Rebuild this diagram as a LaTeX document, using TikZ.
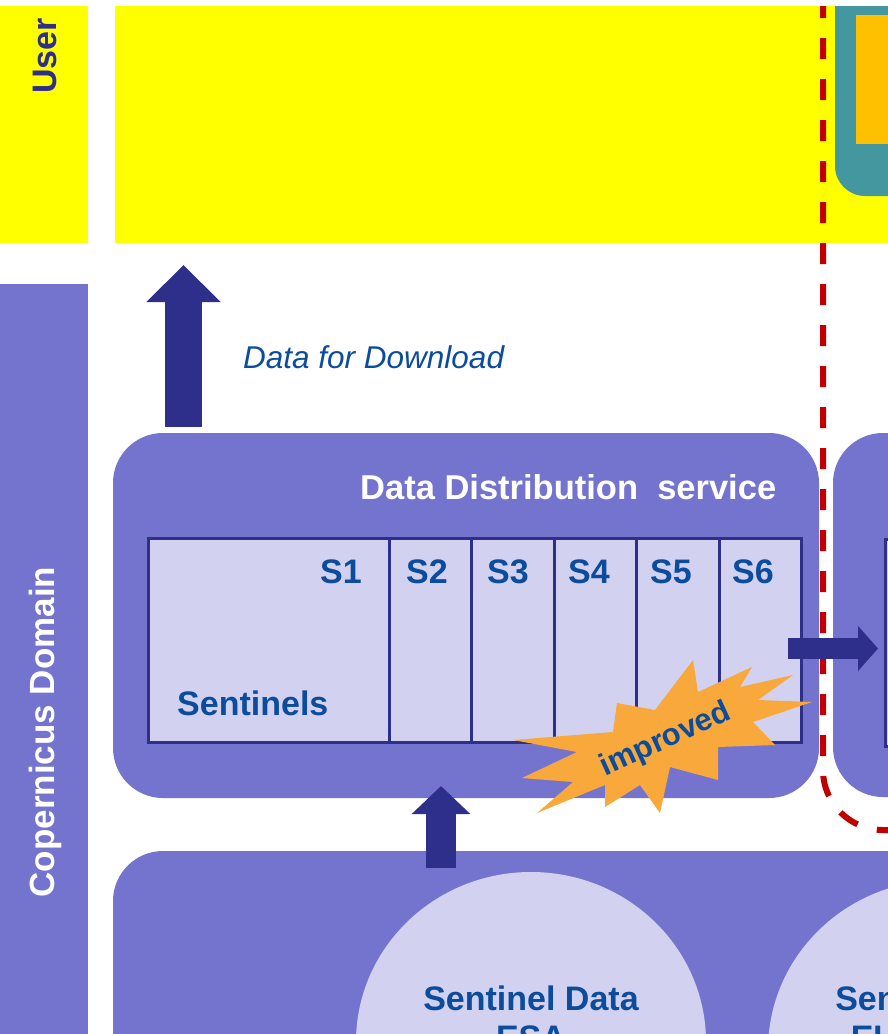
\documentclass[tikz,border=0pt]{standalone}
\usepackage{fontspec}
\setmainfont{Liberation Sans}
\usetikzlibrary{arrows.meta}
\definecolor{uyellow}{HTML}{FFFF00}
\definecolor{uteal}{HTML}{45979F}
\definecolor{uorange}{HTML}{FFC000}
\definecolor{cpurple}{HTML}{7474CF}
\definecolor{clav}{HTML}{D2D2F0}
\definecolor{cnavy}{HTML}{2E2E8B}
\definecolor{cblue}{HTML}{0B4C9C}
\definecolor{cred}{HTML}{C00000}
\definecolor{cstar}{HTML}{F9A83C}
\begin{document}
\begin{tikzpicture}[x=1pt,y=-1pt,
  bf/.style={inner sep=0pt, font=\fontsize{#1}{#1}\selectfont\bfseries},
  itf/.style={inner sep=0pt, font=\fontsize{#1}{#1}\selectfont\itshape},
  lanebox/.style={fill=cpurple, rounded corners=50pt},
  lavfill/.style={fill=clav},
  tableline/.style={draw=cnavy, line width=3pt},
  blockarrow/.style={cnavy, line width=#1},
  reddash/.style={draw=cred, line width=6pt, dash pattern=on 21pt off 20pt, dash phase=9pt, rounded corners=60pt}
]
\useasboundingbox (0,0) rectangle (888,1034);
\clip (0,0) rectangle (888,1034);
\fill[white] (0,0) rectangle (888,1034);
% user lane
\fill[uyellow] (0,6) rectangle (88,243);
\fill[uyellow] (115,6) rectangle (888,243);
\fill[uteal, rounded corners=30pt] (835,-100) rectangle (1000,196);
\fill[uorange] (856,15) rectangle (1000,144);
\fill[white] (0,0) rectangle (888,6);
% copernicus lane
\fill[cpurple] (0,284) rectangle (88,1100);
\node[bf=34, rotate=90, text=cnavy] (user) at (45,56) {User};
\node[bf=35, rotate=90, text=white] (cop) at (45,732) {Copernicus Domain};
% data distribution boxes
\fill[lanebox] (113,433) rectangle (819,798);
\fill[lanebox] (833,433) rectangle (1200,797);
\fill[lavfill] (885,539) rectangle (1200,746);
\draw[tableline] (885,539) rectangle (1200,746);
\node[bf=34.5, anchor=base west, text=white] (ddst) at (360,499) {Data Distribution~~service};
% table
\fill[lavfill] (148,538) rectangle (801,742);
\draw[tableline] (148,538) rectangle (801,742);
\foreach \cx in {389,471,554,636,719} \draw[tableline] (\cx,538) -- (\cx,742);
\node[bf=34, anchor=base east, text=cblue] (s1) at (362,583) {S1};
\node[bf=34, anchor=base, text=cblue] (s2) at (427,583) {S2};
\node[bf=34, anchor=base, text=cblue] (s3) at (508,583) {S3};
\node[bf=34, anchor=base, text=cblue] (s4) at (589,583) {S4};
\node[bf=34, anchor=base, text=cblue] (s5) at (671,583) {S5};
\node[bf=34, anchor=base, text=cblue] (s6) at (753,583) {S6};
\node[bf=34, anchor=base west, text=cblue] (sent) at (177,715) {Sentinels};
% bottom box
\fill[lanebox] (113,851) rectangle (1200,1300);
\fill[lavfill] (531,1042) ellipse [x radius=175, y radius=170];
\fill[lavfill] (943,1050) ellipse [x radius=175, y radius=170];
\node[bf=34, anchor=base, text=cblue] (esa1) at (531,1010) {Sentinel Data};
\node[bf=34, anchor=base, text=cblue] (esa2) at (531,1049) {ESA};
\node[bf=34, anchor=base, text=cblue] (eum1) at (943,1010) {Sentinel Data};
\node[bf=34, anchor=base, text=cblue] (eum2) at (943,1049) {EUMETSAT};
% red boundary
\draw[reddash] (823,6) -- (823,830) -- (1100,830);
% arrows
\coordinate (a1s) at (183.5,427);
\coordinate (a1e) at (183.5,265);
\coordinate (a2s) at (441,868);
\coordinate (a2e) at (441,786);
\coordinate (a3s) at (788,648.5);
\coordinate (a3e) at (878,648.5);
\draw[blockarrow=37pt, -{Triangle[length=37pt,width=72pt]}] (a1s) -- (a1e);
\draw[blockarrow=30pt, -{Triangle[length=28pt,width=57pt]}] (a2s) -- (a2e);
\draw[blockarrow=21pt, -{Triangle[length=20pt,width=44pt]}] (a3s) -- (a3e);
\node[itf=31.5, anchor=base west, text=cblue] (dfd) at (243,368) {Data for Download};
% improved starburst
\fill[cstar] (693,660) -- (698,692) -- (752,667) -- (740,687) -- (793,675) -- (758,700)
  -- (812,702) -- (753,722) -- (775,745) -- (718,747) -- (718,780) -- (670,767)
  -- (660,813) -- (640,785) -- (605,807) -- (605,785) -- (537,813) -- (573,782)
  -- (522,778) -- (577,752) -- (513,740) -- (613,732) -- (617,703) -- (655,710) -- cycle;
\node[bf=31, rotate=24.6, text=cblue] (impr) at (666,740) {improved};
\end{tikzpicture}
\end{document}
